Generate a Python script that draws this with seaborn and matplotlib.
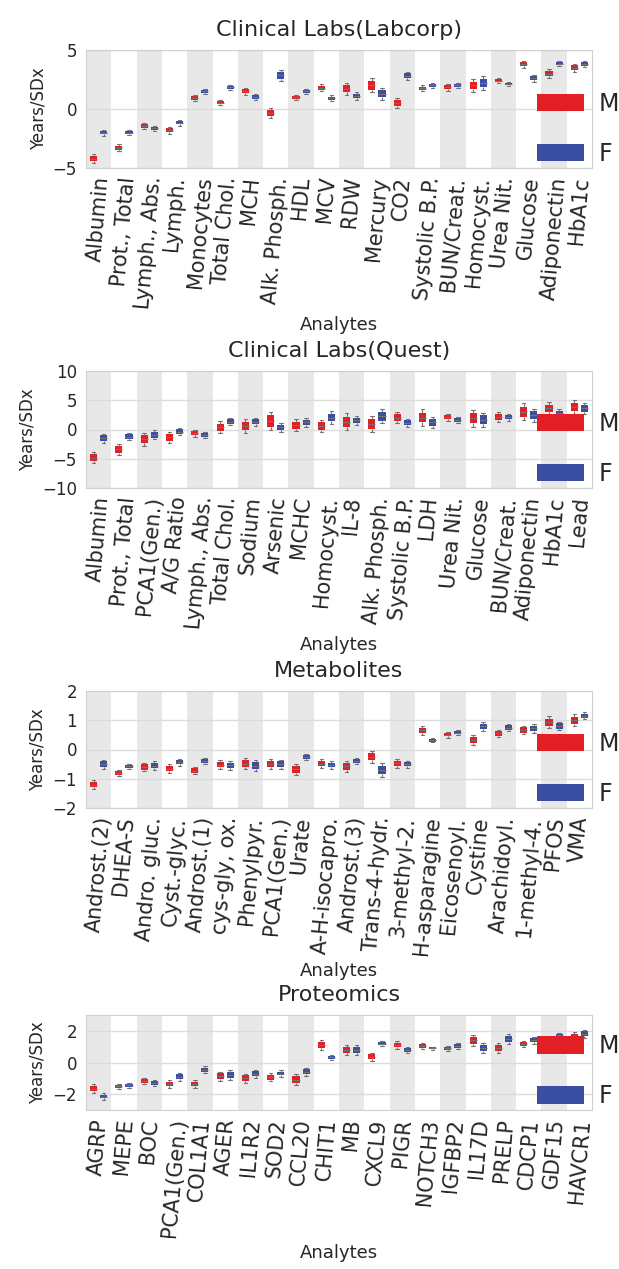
import numpy as np
import pandas as pd
import seaborn as sns
import matplotlib.pyplot as plt

# ---- data (median and whisker half-length per sex) ----
labcorp_labels = ["Albumin", "Prot., Total", "Lymph., Abs.", "Lymph.", "Monocytes",
                  "Total Chol.", "MCH", "Alk. Phosph.", "HDL", "MCV", "RDW", "Mercury",
                  "CO2", "Systolic B.P.", "BUN/Creat.", "Homocyst.", "Urea Nit.",
                  "Glucose", "Adiponectin", "HbA1c"]
labcorp_m = [-4.2, -3.3, -1.45, -1.8, 0.95, 0.55, 1.5, -0.35, 1.0, 1.8,
             1.7, 2.0, 0.5, 1.75, 1.85, 2.0, 2.4, 3.8, 3.0, 3.5]
labcorp_f = [-2.0, -2.0, -1.65, -1.15, 1.5, 1.85, 1.0, 2.85, 1.5, 0.9,
             1.1, 1.3, 2.8, 2.0, 2.0, 2.2, 2.1, 2.6, 3.85, 3.8]
labcorp_m_err = [0.35, 0.3, 0.25, 0.3, 0.25, 0.2, 0.3, 0.45, 0.2, 0.3,
                 0.5, 0.6, 0.4, 0.25, 0.3, 0.55, 0.2, 0.3, 0.4, 0.35]
labcorp_f_err = [0.25, 0.2, 0.25, 0.25, 0.2, 0.2, 0.25, 0.45, 0.2, 0.25,
                 0.3, 0.5, 0.35, 0.2, 0.2, 0.6, 0.15, 0.3, 0.2, 0.25]

quest_labels = ["Albumin", "Prot., Total", "PCA1(Gen.)", "A/G Ratio", "Lymph., Abs.",
                "Total Chol.", "Sodium", "Arsenic", "MCHC", "Homocyst.", "IL-8",
                "Alk. Phosph.", "Systolic B.P.", "LDH", "Urea Nit.", "Glucose",
                "BUN/Creat.", "Adiponectin", "HbA1c", "Lead"]
quest_m = [-4.8, -3.4, -1.65, -1.35, -0.6, 0.4, 0.55, 1.45, 0.75, 0.6,
           1.35, 0.95, 2.05, 2.05, 2.1, 1.9, 2.1, 3.05, 3.6, 3.8]
quest_f = [-1.5, -1.2, -0.9, -0.35, -0.95, 1.35, 1.35, 0.35, 1.2, 2.05,
           1.55, 2.25, 1.15, 1.2, 1.65, 1.7, 2.1, 2.45, 2.75, 3.6]
quest_m_err = [1.0, 1.0, 1.1, 0.9, 0.6, 1.0, 1.2, 1.6, 1.0, 1.1,
               1.4, 1.3, 0.9, 1.4, 0.6, 1.4, 0.9, 1.4, 1.1, 1.2]
quest_f_err = [0.8, 0.6, 0.8, 0.6, 0.5, 0.6, 0.7, 0.8, 0.8, 1.1,
               0.8, 1.2, 0.7, 1.0, 0.5, 1.2, 0.6, 1.1, 0.7, 1.0]

metab_labels = ["Androst.(2)", "DHEA-S", "Andro. gluc.", "Cyst.-glyc.", "Androst.(1)",
                "cys-gly, ox.", "Phenylpyr.", "PCA1(Gen.)", "Urate", "A-H-isocapro.",
                "Androst.(3)", "Trans-4-hydr.", "3-methyl-2.", "H-asparagine",
                "Eicosenoyl.", "Cystine", "Arachidoyl.", "1-methyl-4.", "PFOS", "VMA"]
metab_m = [-1.2, -0.8, -0.6, -0.66, -0.72, -0.52, -0.48, -0.5, -0.68, -0.48,
           -0.58, -0.25, -0.47, 0.65, 0.51, 0.33, 0.55, 0.67, 0.93, 1.0]
metab_f = [-0.5, -0.58, -0.55, -0.43, -0.39, -0.54, -0.55, -0.5, -0.25, -0.53,
           -0.39, -0.7, -0.5, 0.32, 0.58, 0.79, 0.75, 0.72, 0.8, 1.15]
metab_m_err = [0.15, 0.1, 0.15, 0.15, 0.12, 0.15, 0.18, 0.18, 0.2, 0.15,
               0.18, 0.2, 0.15, 0.15, 0.1, 0.18, 0.12, 0.15, 0.2, 0.2]
metab_f_err = [0.15, 0.1, 0.15, 0.12, 0.1, 0.15, 0.18, 0.15, 0.1, 0.12,
               0.1, 0.25, 0.12, 0.08, 0.1, 0.15, 0.12, 0.15, 0.15, 0.12]

prot_labels = ["AGRP", "MEPE", "BOC", "PCA1(Gen.)", "COL1A1", "AGER", "IL1R2", "SOD2",
               "CCL20", "CHIT1", "MB", "CXCL9", "PIGR", "NOTCH3", "IGFBP2", "IL17D",
               "PRELP", "CDCP1", "GDF15", "HAVCR1"]
prot_m = [-1.65, -1.5, -1.15, -1.35, -1.35, -0.87, -1.0, -0.93, -1.08, 1.1,
          0.79, 0.37, 1.1, 1.05, 0.89, 1.4, 0.93, 1.16, 1.55, 1.65]
prot_f = [-2.15, -1.45, -1.3, -0.9, -0.45, -0.8, -0.7, -0.7, -0.58, 0.33,
          0.79, 1.2, 0.79, 0.9, 1.05, 0.93, 1.5, 1.4, 1.72, 1.82]
prot_m_err = [0.3, 0.15, 0.2, 0.25, 0.25, 0.3, 0.3, 0.25, 0.35, 0.3,
              0.3, 0.25, 0.25, 0.2, 0.15, 0.35, 0.3, 0.2, 0.1, 0.25]
prot_f_err = [0.2, 0.15, 0.2, 0.25, 0.2, 0.3, 0.25, 0.2, 0.25, 0.15,
              0.3, 0.15, 0.2, 0.1, 0.2, 0.3, 0.3, 0.2, 0.15, 0.25]

panels = [
    ("Clinical Labs(Labcorp)", labcorp_labels, labcorp_m, labcorp_f, labcorp_m_err, labcorp_f_err,
     (-5, 5), [-5, 0, 5]),
    ("Clinical Labs(Quest)", quest_labels, quest_m, quest_f, quest_m_err, quest_f_err,
     (-10, 10), [-10, -5, 0, 5, 10]),
    ("Metabolites", metab_labels, metab_m, metab_f, metab_m_err, metab_f_err,
     (-2, 2), [-2, -1, 0, 1, 2]),
    ("Proteomics", prot_labels, prot_m, prot_f, prot_m_err, prot_f_err,
     (-3, 3), [-2, 0, 2]),
]

palette = {"M": "#e31f26", "F": "#3a4ea2"}


def long_table(labels, m, f, m_err, f_err):
    # five points per box: whisker ends, box edges, median
    rows = []
    for lab, mv, fv, me, fe in zip(labels, m, f, m_err, f_err):
        for sex, v, e in (("M", mv, me), ("F", fv, fe)):
            for d in (-e, -0.6 * e, 0, 0.6 * e, e):
                rows.append({"Analytes": lab, "Sex": sex, "val": v + d})
    return pd.DataFrame(rows)


sns.set_style("whitegrid")
plt.rcParams["font.family"] = ["DejaVu Sans"]

fig = plt.figure(figsize=(6.19, 12.69), dpi=100)
# axes boxes in pixels (left, top, right, bottom) on the 619x1269 canvas
boxes = [(86, 50, 592, 168), (86, 371, 592, 488), (86, 691, 592, 808), (86, 1015, 592, 1110)]

for (title, labels, m, f, me, fe, ylim, yticks), (x0, y0, x1, y1) in zip(panels, boxes):
    ax = fig.add_axes([x0 / 619, 1 - y1 / 1269, (x1 - x0) / 619, (y1 - y0) / 1269])
    df = long_table(labels, m, f, me, fe)
    for i in range(0, len(labels), 2):
        ax.axvspan(i - 0.5, i + 0.5, color="#e8e8e8", zorder=0, lw=0)
    sns.boxplot(data=df, x="Analytes", y="val", hue="Sex", hue_order=["M", "F"],
                palette=palette, saturation=1, width=0.8, gap=0.3, linewidth=0.8,
                linecolor="0.45", fliersize=1, whis=1.5,
                boxprops={"linewidth": 0}, ax=ax)
    ax.set_xlim(-0.5, len(labels) - 0.5)
    ax.set_ylim(*ylim)
    ax.set_yticks(yticks)
    ax.grid(axis="x", visible=False)
    ax.grid(axis="y", color="#dcdcdc", lw=1)
    ax.set_axisbelow(True)
    for s in ax.spines.values():
        s.set_color("#d0d0d0")
    ax.tick_params(axis="x", labelsize=15, rotation=85, pad=2)
    ax.tick_params(axis="y", labelsize=12, pad=3)
    ax.set_title(title, fontsize=16, color="#262626", pad=10)
    ax.set_xlabel("Analytes", fontsize=13, color="#262626")
    ax.set_ylabel("Years/SDx", fontsize=12, color="#262626")
    handles, labs = ax.get_legend_handles_labels()
    ax.legend(handles, labs, loc="lower left", bbox_to_anchor=(0.891, 0.02),
              frameon=False, fontsize=17, handlelength=2.0, handleheight=0.75,
              labelspacing=1.1, borderpad=0, borderaxespad=0, handletextpad=0.6)

fig.savefig("out.png", dpi=100)
